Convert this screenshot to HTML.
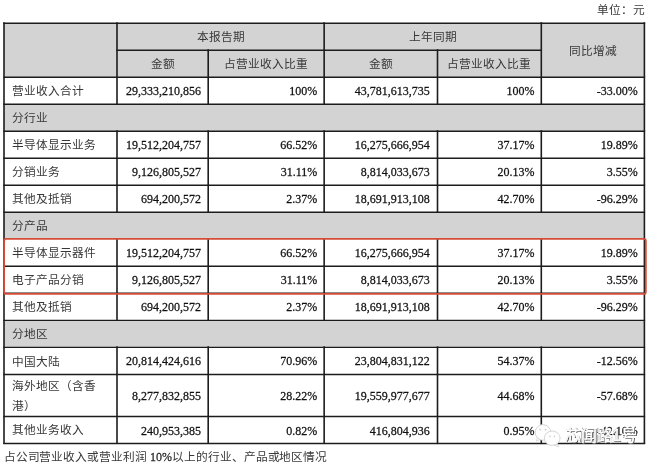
<!DOCTYPE html>
<html lang="zh-CN">
<head>
<meta charset="utf-8">
<title>营业收入构成</title>
<style>
html,body{margin:0;padding:0;background:#fff;}
body{width:655px;height:468px;position:relative;overflow:hidden;font-family:"Liberation Serif",serif;font-size:11.7px;color:#383838;}
#wrap{position:absolute;left:0;top:0;width:655px;height:468px;will-change:transform;}
.c{position:absolute;display:flex;align-items:center;box-sizing:border-box;white-space:nowrap;line-height:14px;padding-top:3.80px;}
.g{background:#d3d3d3;}
.l{justify-content:flex-start;padding-left:7.8px;}
.r{justify-content:flex-end;padding-right:8.1px;color:#111;padding-top:1.7px;}
.p1{padding-right:7.2px}.p2{padding-right:6.9px}.p3{padding-right:7.8px}.p4,.p5{padding-right:6.7px}
.n{display:inline-block;font-size:12px;transform:scaleY(1.05);-webkit-text-stroke:0.25px #111;}
.m{justify-content:center;}
.t{position:absolute;white-space:nowrap;line-height:14px;}
svg{position:absolute;left:0;top:0;}
</style>
</head>
<body>
<div id="wrap">

<div class="t" style="right:10.5px;top:4.1px">单位：元</div>
<div class="c g" style="left:4.00px;top:23.00px;width:113.00px;height:54.00px"></div>
<div class="c g m" style="left:117.00px;top:23.00px;width:207.15px;height:27.00px">本报告期</div>
<div class="c g m" style="left:324.15px;top:23.00px;width:217.15px;height:27.00px">上年同期</div>
<div class="c g m" style="left:541.30px;top:23.00px;width:103.10px;height:54.00px">同比增减</div>
<div class="c g m" style="left:117.00px;top:50.00px;width:91.20px;height:27.00px">金额</div>
<div class="c g m" style="left:208.20px;top:50.00px;width:115.95px;height:27.00px">占营业收入比重</div>
<div class="c g m" style="left:324.15px;top:50.00px;width:113.35px;height:27.00px">金额</div>
<div class="c g m" style="left:437.50px;top:50.00px;width:103.80px;height:27.00px">占营业收入比重</div>
<div class="c l" style="left:4.00px;top:77.00px;width:113.00px;height:27.00px">营业收入合计</div>
<div class="c r p1" style="left:117.00px;top:77.00px;width:91.20px;height:27.00px"><span class="n">29,333,210,856</span></div>
<div class="c r p2" style="left:208.20px;top:77.00px;width:115.95px;height:27.00px"><span class="n">100%</span></div>
<div class="c r p3" style="left:324.15px;top:77.00px;width:113.35px;height:27.00px"><span class="n">43,781,613,735</span></div>
<div class="c r p4" style="left:437.50px;top:77.00px;width:103.80px;height:27.00px"><span class="n">100%</span></div>
<div class="c r p5" style="left:541.30px;top:77.00px;width:103.10px;height:27.00px"><span class="n">-33.00%</span></div>
<div class="c g l" style="left:4.00px;top:104.00px;width:640.40px;height:27.00px">分行业</div>
<div class="c l" style="left:4.00px;top:131.00px;width:113.00px;height:27.00px">半导体显示业务</div>
<div class="c r p1" style="left:117.00px;top:131.00px;width:91.20px;height:27.00px"><span class="n">19,512,204,757</span></div>
<div class="c r p2" style="left:208.20px;top:131.00px;width:115.95px;height:27.00px"><span class="n">66.52%</span></div>
<div class="c r p3" style="left:324.15px;top:131.00px;width:113.35px;height:27.00px"><span class="n">16,275,666,954</span></div>
<div class="c r p4" style="left:437.50px;top:131.00px;width:103.80px;height:27.00px"><span class="n">37.17%</span></div>
<div class="c r p5" style="left:541.30px;top:131.00px;width:103.10px;height:27.00px"><span class="n">19.89%</span></div>
<div class="c l" style="left:4.00px;top:158.00px;width:113.00px;height:27.00px">分销业务</div>
<div class="c r p1" style="left:117.00px;top:158.00px;width:91.20px;height:27.00px"><span class="n">9,126,805,527</span></div>
<div class="c r p2" style="left:208.20px;top:158.00px;width:115.95px;height:27.00px"><span class="n">31.11%</span></div>
<div class="c r p3" style="left:324.15px;top:158.00px;width:113.35px;height:27.00px"><span class="n">8,814,033,673</span></div>
<div class="c r p4" style="left:437.50px;top:158.00px;width:103.80px;height:27.00px"><span class="n">20.13%</span></div>
<div class="c r p5" style="left:541.30px;top:158.00px;width:103.10px;height:27.00px"><span class="n">3.55%</span></div>
<div class="c l" style="left:4.00px;top:185.00px;width:113.00px;height:27.00px">其他及抵销</div>
<div class="c r p1" style="left:117.00px;top:185.00px;width:91.20px;height:27.00px"><span class="n">694,200,572</span></div>
<div class="c r p2" style="left:208.20px;top:185.00px;width:115.95px;height:27.00px"><span class="n">2.37%</span></div>
<div class="c r p3" style="left:324.15px;top:185.00px;width:113.35px;height:27.00px"><span class="n">18,691,913,108</span></div>
<div class="c r p4" style="left:437.50px;top:185.00px;width:103.80px;height:27.00px"><span class="n">42.70%</span></div>
<div class="c r p5" style="left:541.30px;top:185.00px;width:103.10px;height:27.00px"><span class="n">-96.29%</span></div>
<div class="c g l" style="left:4.00px;top:212.00px;width:640.40px;height:27.00px">分产品</div>
<div class="c l" style="left:4.00px;top:239.00px;width:113.00px;height:27.00px">半导体显示器件</div>
<div class="c r p1" style="left:117.00px;top:239.00px;width:91.20px;height:27.00px"><span class="n">19,512,204,757</span></div>
<div class="c r p2" style="left:208.20px;top:239.00px;width:115.95px;height:27.00px"><span class="n">66.52%</span></div>
<div class="c r p3" style="left:324.15px;top:239.00px;width:113.35px;height:27.00px"><span class="n">16,275,666,954</span></div>
<div class="c r p4" style="left:437.50px;top:239.00px;width:103.80px;height:27.00px"><span class="n">37.17%</span></div>
<div class="c r p5" style="left:541.30px;top:239.00px;width:103.10px;height:27.00px"><span class="n">19.89%</span></div>
<div class="c l" style="left:4.00px;top:266.00px;width:113.00px;height:27.00px">电子产品分销</div>
<div class="c r p1" style="left:117.00px;top:266.00px;width:91.20px;height:27.00px"><span class="n">9,126,805,527</span></div>
<div class="c r p2" style="left:208.20px;top:266.00px;width:115.95px;height:27.00px"><span class="n">31.11%</span></div>
<div class="c r p3" style="left:324.15px;top:266.00px;width:113.35px;height:27.00px"><span class="n">8,814,033,673</span></div>
<div class="c r p4" style="left:437.50px;top:266.00px;width:103.80px;height:27.00px"><span class="n">20.13%</span></div>
<div class="c r p5" style="left:541.30px;top:266.00px;width:103.10px;height:27.00px"><span class="n">3.55%</span></div>
<div class="c l" style="left:4.00px;top:293.00px;width:113.00px;height:27.10px">其他及抵销</div>
<div class="c r p1" style="left:117.00px;top:293.00px;width:91.20px;height:27.10px"><span class="n">694,200,572</span></div>
<div class="c r p2" style="left:208.20px;top:293.00px;width:115.95px;height:27.10px"><span class="n">2.37%</span></div>
<div class="c r p3" style="left:324.15px;top:293.00px;width:113.35px;height:27.10px"><span class="n">18,691,913,108</span></div>
<div class="c r p4" style="left:437.50px;top:293.00px;width:103.80px;height:27.10px"><span class="n">42.70%</span></div>
<div class="c r p5" style="left:541.30px;top:293.00px;width:103.10px;height:27.10px"><span class="n">-96.29%</span></div>
<div class="c g l" style="left:4.00px;top:320.10px;width:640.40px;height:27.00px">分地区</div>
<div class="c l" style="left:4.00px;top:347.10px;width:113.00px;height:27.05px">中国大陆</div>
<div class="c r p1" style="left:117.00px;top:347.10px;width:91.20px;height:27.05px"><span class="n">20,814,424,616</span></div>
<div class="c r p2" style="left:208.20px;top:347.10px;width:115.95px;height:27.05px"><span class="n">70.96%</span></div>
<div class="c r p3" style="left:324.15px;top:347.10px;width:113.35px;height:27.05px"><span class="n">23,804,831,122</span></div>
<div class="c r p4" style="left:437.50px;top:347.10px;width:103.80px;height:27.05px"><span class="n">54.37%</span></div>
<div class="c r p5" style="left:541.30px;top:347.10px;width:103.10px;height:27.05px"><span class="n">-12.56%</span></div>
<div class="c l" style="left:4.00px;top:374.15px;width:113.00px;height:42.05px"><span style="line-height:20.5px">海外地区（含香<br>港）</span></div>
<div class="c r p1" style="left:117.00px;top:374.15px;width:91.20px;height:42.05px"><span class="n">8,277,832,855</span></div>
<div class="c r p2" style="left:208.20px;top:374.15px;width:115.95px;height:42.05px"><span class="n">28.22%</span></div>
<div class="c r p3" style="left:324.15px;top:374.15px;width:113.35px;height:42.05px"><span class="n">19,559,977,677</span></div>
<div class="c r p4" style="left:437.50px;top:374.15px;width:103.80px;height:42.05px"><span class="n">44.68%</span></div>
<div class="c r p5" style="left:541.30px;top:374.15px;width:103.10px;height:42.05px"><span class="n">-57.68%</span></div>
<div class="c l" style="left:4.00px;top:416.20px;width:113.00px;height:27.10px"><span style="position:relative;top:-0.8px">其他业务收入</span></div>
<div class="c r p1" style="left:117.00px;top:416.20px;width:91.20px;height:27.10px"><span class="n">240,953,385</span></div>
<div class="c r p2" style="left:208.20px;top:416.20px;width:115.95px;height:27.10px"><span class="n">0.82%</span></div>
<div class="c r p3" style="left:324.15px;top:416.20px;width:113.35px;height:27.10px"><span class="n">416,804,936</span></div>
<div class="c r p4" style="left:437.50px;top:416.20px;width:103.80px;height:27.10px"><span class="n">0.95%</span></div>
<div class="c r p5" style="left:541.30px;top:416.20px;width:103.10px;height:27.10px"><span class="n">-42.10%</span></div>
<svg width="655" height="468" viewBox="0 0 655 468" fill="none">
<g stroke="#1c1c1c" stroke-width="1.6" stroke-linecap="square">
<line x1="4.00" y1="23.27" x2="644.40" y2="23.27" stroke-width="1.45"/>
<line x1="117.00" y1="50.27" x2="541.30" y2="50.27" stroke-width="1.45"/>
<line x1="4.00" y1="77.27" x2="644.40" y2="77.27" stroke-width="1.45"/>
<line x1="4.00" y1="104.27" x2="644.40" y2="104.27" stroke-width="1.45"/>
<line x1="4.00" y1="131.27" x2="644.40" y2="131.27" stroke-width="1.45"/>
<line x1="4.00" y1="158.27" x2="644.40" y2="158.27" stroke-width="1.45"/>
<line x1="4.00" y1="185.27" x2="644.40" y2="185.27" stroke-width="1.45"/>
<line x1="4.00" y1="212.27" x2="644.40" y2="212.27" stroke-width="1.45"/>
<line x1="4.00" y1="266.27" x2="644.40" y2="266.27" stroke-width="1.45"/>
<line x1="4.00" y1="293.27" x2="644.40" y2="293.27" stroke-width="1.45"/>
<line x1="4.00" y1="320.37" x2="644.40" y2="320.37" stroke-width="1.45"/>
<line x1="4.00" y1="347.37" x2="644.40" y2="347.37" stroke-width="1.45"/>
<line x1="4.00" y1="374.42" x2="644.40" y2="374.42" stroke-width="1.45"/>
<line x1="4.00" y1="416.47" x2="644.40" y2="416.47" stroke-width="1.45"/>
<line x1="4.00" y1="443.57" x2="644.40" y2="443.57" stroke-width="1.45"/>
<line x1="4.00" y1="23.00" x2="4.00" y2="443.30"/>
<line x1="644.40" y1="23.00" x2="644.40" y2="443.30"/>
<line x1="117.00" y1="23.00" x2="117.00" y2="104.00"/>
<line x1="117.00" y1="131.00" x2="117.00" y2="212.00"/>
<line x1="117.00" y1="239.00" x2="117.00" y2="320.10"/>
<line x1="117.00" y1="347.10" x2="117.00" y2="443.30"/>
<line x1="324.15" y1="23.00" x2="324.15" y2="104.00"/>
<line x1="324.15" y1="131.00" x2="324.15" y2="212.00"/>
<line x1="324.15" y1="239.00" x2="324.15" y2="320.10"/>
<line x1="324.15" y1="347.10" x2="324.15" y2="443.30"/>
<line x1="541.30" y1="23.00" x2="541.30" y2="104.00"/>
<line x1="541.30" y1="131.00" x2="541.30" y2="212.00"/>
<line x1="541.30" y1="239.00" x2="541.30" y2="320.10"/>
<line x1="541.30" y1="347.10" x2="541.30" y2="443.30"/>
<line x1="208.20" y1="50.00" x2="208.20" y2="104.00"/>
<line x1="208.20" y1="131.00" x2="208.20" y2="212.00"/>
<line x1="208.20" y1="239.00" x2="208.20" y2="320.10"/>
<line x1="208.20" y1="347.10" x2="208.20" y2="443.30"/>
<line x1="437.50" y1="50.00" x2="437.50" y2="104.00"/>
<line x1="437.50" y1="131.00" x2="437.50" y2="212.00"/>
<line x1="437.50" y1="239.00" x2="437.50" y2="320.10"/>
<line x1="437.50" y1="347.10" x2="437.50" y2="443.30"/>
</g>
<rect x="4.10" y="238.90" width="641.70" height="55.05" rx="2" ry="2" stroke="#d64c38" stroke-width="1.85"/>
<g stroke="#d0d0d0" stroke-width="0.9" fill="#fff">
<path d="M537.2 437.6 L536.6 441.2 L540.2 439.4 Z" stroke-width="0.7"/>
<ellipse cx="543" cy="432.4" rx="7.8" ry="7.8"/>
<path d="M556.8 444 L558.8 446.8 L554 445.2 Z" stroke-width="0.7"/>
<ellipse cx="552.2" cy="438.2" rx="7.9" ry="7.2"/>
</g>
<g fill="#cdcdcd"><circle cx="540.3" cy="429.6" r="0.9"/><circle cx="545.6" cy="429.6" r="0.9"/><circle cx="549.9" cy="436.4" r="0.8"/><circle cx="554.4" cy="436.4" r="0.8"/></g>
</svg>
<div class="t" style="left:3.7px;top:450px;word-spacing:0.4px;letter-spacing:-0.07px">占公司营业收入或营业利润 <span class="n" style="letter-spacing:0">10%</span>以上的行业、产品或地区情况</div>
<div class="t" style="left:565.3px;top:424.9px;font-family:'Liberation Sans',sans-serif;font-size:16px;line-height:22px;letter-spacing:-0.35px;color:#fff;-webkit-text-stroke:0.3px #fff;text-shadow:0.8px 0.8px 0.3px #5a5a5a,-0.5px -0.5px 0.4px #8c8c8c">芯闻路1号</div>
</div>
</body>
</html>
